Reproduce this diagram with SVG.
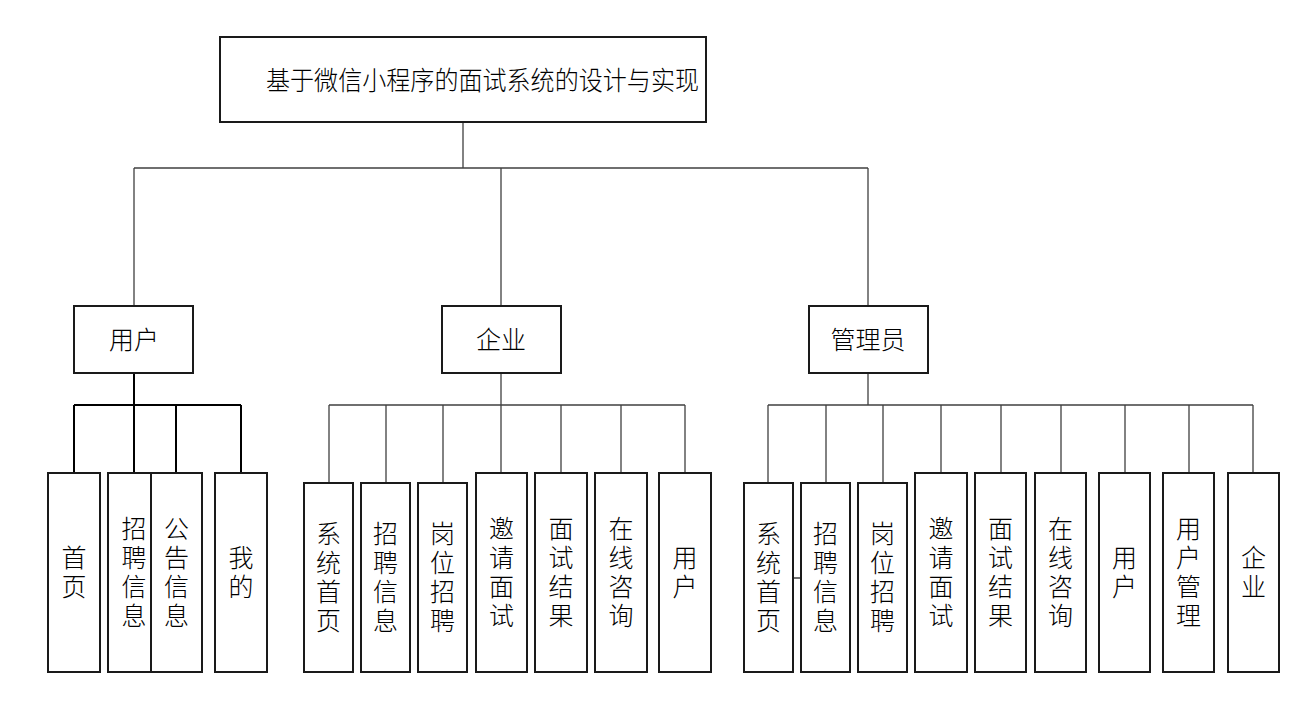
<svg xmlns="http://www.w3.org/2000/svg" width="1310" height="710" viewBox="0 0 1310 710">
<style>
.box{fill:#fff;stroke:#1a1a1a;stroke-width:2}
.ln{fill:none;stroke:#404040;stroke-width:1.3}
.lnb{fill:none;stroke:#000;stroke-width:2}
text{font-family:"Noto Sans CJK SC","Noto Sans CJK JP",sans-serif;font-size:25px;font-weight:300;fill:#000;text-anchor:middle}
.t{font-size:26px}
</style>
<rect width="1310" height="710" fill="#fff"/>
<g id="connectors">
<path class="ln" d="M463 122V168M134 168H868M134 168V306M501 168V306M868 168V306"/>
<path class="lnb" d="M134 373V405M74 405H241M74 405V473M134 405V473M176 405V473M241 405V473"/>
<path class="ln" d="M501 373V473M329 405H685M329 405V483M386 405V483M443 405V483M561 405V473M621 405V473M685 405V473"/>
<path class="ln" d="M868 373V405M768 405H1253M768 405V483M826 405V483M883 405V483M941 405V473M1001 405V473M1061 405V473M1125 405V473M1189 405V473M1253 405V473M793 578H801"/>
</g>
<g id="root"><rect class="box" x="220" y="37" width="486" height="85"/><text class="t" x="482.5" y="90" textLength="433" lengthAdjust="spacingAndGlyphs">基于微信小程序的面试系统的设计与实现</text></g>
<g id="user"><rect class="box" x="74" y="306" width="119" height="67"/><text x="134" y="348.5">用户</text></g>
<g id="enterprise"><rect class="box" x="442" y="306" width="119" height="67"/><text x="501" y="348.5">企业</text></g>
<g id="admin"><rect class="box" x="809" y="306" width="119" height="67"/><text x="868" y="348.5">管理员</text></g>
<g id="u1"><rect class="box" x="48" y="473" width="52" height="199"/><text x="74 74" y="567 596">首页</text></g>
<g id="u2"><rect class="box" x="108" y="473" width="52" height="199"/><text x="134 134 134 134" y="538 567 596 625">招聘信息</text></g>
<g id="u3"><rect class="box" x="151" y="473" width="51" height="199"/><text x="176.5 176.5 176.5 176.5" y="538 567 596 625">公告信息</text></g>
<g id="u4"><rect class="box" x="215" y="473" width="52" height="199"/><text x="241 241" y="567 596">我的</text></g>
<g id="e1"><rect class="box" x="304" y="483" width="49" height="189"/><text x="328.5 328.5 328.5 328.5" y="543 572 601 630">系统首页</text></g>
<g id="e2"><rect class="box" x="361" y="483" width="49" height="189"/><text x="385.5 385.5 385.5 385.5" y="543 572 601 630">招聘信息</text></g>
<g id="e3"><rect class="box" x="418" y="483" width="49" height="189"/><text x="442.5 442.5 442.5 442.5" y="543 572 601 630">岗位招聘</text></g>
<g id="e4"><rect class="box" x="476" y="473" width="51" height="199"/><text x="501.5 501.5 501.5 501.5" y="538 567 596 625">邀请面试</text></g>
<g id="e5"><rect class="box" x="535" y="473" width="52" height="199"/><text x="561 561 561 561" y="538 567 596 625">面试结果</text></g>
<g id="e6"><rect class="box" x="595" y="473" width="52" height="199"/><text x="621 621 621 621" y="538 567 596 625">在线咨询</text></g>
<g id="e7"><rect class="box" x="659" y="473" width="52" height="199"/><text x="685 685" y="567 596">用户</text></g>
<g id="a1"><rect class="box" x="744" y="483" width="49" height="189"/><text x="768.5 768.5 768.5 768.5" y="543 572 601 630">系统首页</text></g>
<g id="a2"><rect class="box" x="801" y="483" width="49" height="189"/><text x="825.5 825.5 825.5 825.5" y="543 572 601 630">招聘信息</text></g>
<g id="a3"><rect class="box" x="858" y="483" width="49" height="189"/><text x="882.5 882.5 882.5 882.5" y="543 572 601 630">岗位招聘</text></g>
<g id="a4"><rect class="box" x="915" y="473" width="52" height="199"/><text x="941 941 941 941" y="538 567 596 625">邀请面试</text></g>
<g id="a5"><rect class="box" x="975" y="473" width="51" height="199"/><text x="1000.5 1000.5 1000.5 1000.5" y="538 567 596 625">面试结果</text></g>
<g id="a6"><rect class="box" x="1035" y="473" width="51" height="199"/><text x="1060.5 1060.5 1060.5 1060.5" y="538 567 596 625">在线咨询</text></g>
<g id="a7"><rect class="box" x="1099" y="473" width="51" height="199"/><text x="1124.5 1124.5" y="567 596">用户</text></g>
<g id="a8"><rect class="box" x="1163" y="473" width="51" height="199"/><text x="1188.5 1188.5 1188.5 1188.5" y="538 567 596 625">用户管理</text></g>
<g id="a9"><rect class="box" x="1228" y="473" width="51" height="199"/><text x="1253.5 1253.5" y="567 596">企业</text></g>
</svg>
